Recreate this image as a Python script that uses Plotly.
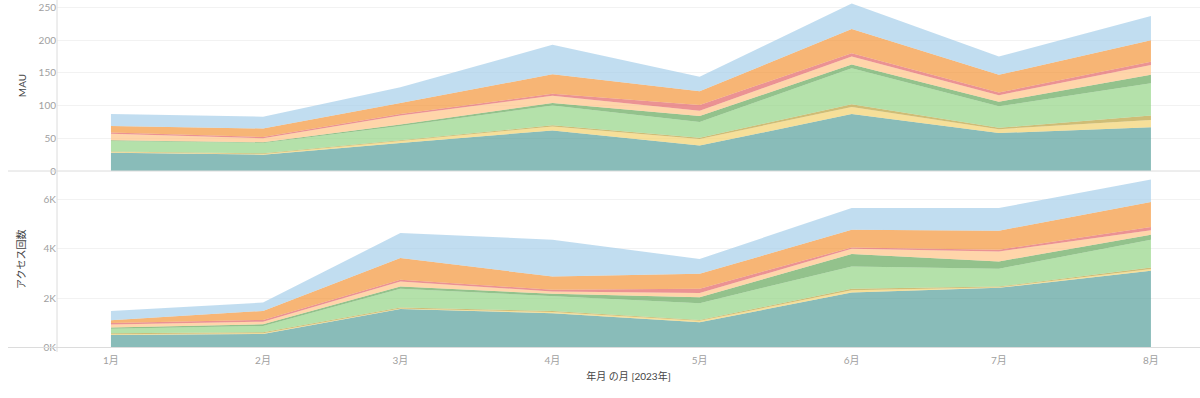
import plotly.graph_objects as go

# ---- data ----
months = ["2023-01-01", "2023-02-01", "2023-03-01", "2023-04-01",
          "2023-05-01", "2023-06-01", "2023-07-01", "2023-08-01"]
month_labels = ["1月", "2月", "3月", "4月", "5月", "6月", "7月", "8月"]

series_names = ["系列A", "系列B", "系列C", "系列D", "系列E", "系列F", "系列G", "系列H", "系列I"]
series_colors = ["#499894", "#F1CE63", "#B6992D", "#8CD17D", "#59A14F",
                 "#FFBE7D", "#E15759", "#F28E2B", "#A0CBE8"]

# MAU (top panel), bottom -> top stacking order
mau_a = [28, 25, 43, 62, 39, 87, 58, 67]
mau_b = [1, 1, 3, 6, 10, 11, 6, 11]
mau_c = [1, 1, 1, 2, 2, 4, 2, 7]
mau_d = [16, 16, 22, 30, 24, 55, 33, 49]
mau_e = [1, 1, 2, 4, 9, 6, 7, 13]
mau_f = [10, 6, 14, 11, 8, 12, 10, 15]
mau_g = [2, 2, 2, 3, 9, 5, 4, 5]
mau_h = [10, 13, 17, 30, 21, 37, 27, 33]
mau_i = [18, 18, 24, 45, 22, 39, 28, 37]

# アクセス回数 (bottom panel)
acc_a = [510, 550, 1560, 1390, 1020, 2225, 2415, 3105]
acc_b = [30, 30, 20, 45, 60, 90, 20, 70]
acc_c = [40, 40, 35, 45, 35, 60, 30, 65]
acc_d = [180, 250, 760, 610, 680, 905, 720, 1120]
acc_e = [50, 70, 95, 80, 240, 500, 295, 205]
acc_f = [120, 105, 200, 95, 165, 215, 405, 175]
acc_g = [65, 70, 70, 70, 175, 55, 70, 135]
acc_h = [110, 365, 880, 535, 605, 715, 770, 1015]
acc_i = [375, 340, 1010, 1490, 600, 880, 920, 905]

mau_series = [mau_a, mau_b, mau_c, mau_d, mau_e, mau_f, mau_g, mau_h, mau_i]
acc_series = [acc_a, acc_b, acc_c, acc_d, acc_e, acc_f, acc_g, acc_h, acc_i]

mau_ticks = [0, 50, 100, 150, 200, 250]
acc_ticks = [0, 2000, 4000, 6000]
acc_ticktext = ["0K", "2K", "4K", "6K"]


def rgba(hex_color, a):
    h = hex_color.lstrip("#")
    r, g, b = int(h[0:2], 16), int(h[2:4], 16), int(h[4:6], 16)
    return f"rgba({r},{g},{b},{a})"


W, H = 1200, 398
FONT = "Lato, 'Noto Sans CJK JP', sans-serif"
ALPHA = 0.65

fig = go.Figure()
for name, col, vals in zip(series_names, series_colors, mau_series):
    fig.add_trace(go.Scatter(
        x=months, y=vals, name=name, mode="lines", stackgroup="mau",
        line=dict(width=0, color=col), fillcolor=rgba(col, ALPHA),
        xaxis="x", yaxis="y", showlegend=False))
for name, col, vals in zip(series_names, series_colors, acc_series):
    fig.add_trace(go.Scatter(
        x=months, y=vals, name=name, mode="lines", stackgroup="acc",
        line=dict(width=0, color=col), fillcolor=rgba(col, ALPHA),
        xaxis="x2", yaxis="y2", showlegend=False))

x0 = 57 / W
top_split = 1 - 171 / H
bottom_edge = 1 - 347.5 / H
xrange = ["2022-12-21", "2023-08-11"]

tick_font = dict(family=FONT, size=10, color="#a0a0a0")
title_font = dict(family=FONT, size=10, color="#444444")

fig.update_layout(
    width=W, height=H, autosize=False,
    margin=dict(l=0, r=0, t=0, b=0),
    paper_bgcolor="white", plot_bgcolor="white",
    font=dict(family=FONT),
    xaxis=dict(domain=[x0, 1], anchor="y", type="date", range=xrange,
               showticklabels=False, showgrid=False, zeroline=False,
               showline=False, ticks="", automargin=False),
    xaxis2=dict(domain=[x0, 1], anchor="y2", type="date", range=xrange,
                matches="x", tickvals=months, ticktext=month_labels,
                showgrid=False, zeroline=False, showline=False, ticks="",
                tickfont=tick_font, ticklabelstandoff=5, automargin=False,
                title=dict(text="年月 の月 [2023年]", font=title_font, standoff=8)),
    yaxis=dict(domain=[top_split, 1], anchor="x", range=[0, 261.5],
               tickvals=mau_ticks, gridcolor="#f2f2f2", gridwidth=1,
               zeroline=False, showline=False, ticks="", tickfont=tick_font,
               automargin=False,
               title=dict(text="MAU", font=title_font, standoff=10)),
    yaxis2=dict(domain=[bottom_edge, top_split], anchor="x2", range=[0, 7140],
                tickvals=acc_ticks, ticktext=acc_ticktext,
                gridcolor="#f2f2f2", gridwidth=1,
                zeroline=False, showline=False, ticks="", tickfont=tick_font,
                automargin=False,
                title=dict(text="アクセス回数", font=title_font, standoff=16)),
    shapes=[
        dict(type="line", xref="paper", yref="paper", x0=8 / W, x1=1,
             y0=top_split, y1=top_split, line=dict(color="#dcdcdc", width=1)),
        dict(type="line", xref="paper", yref="paper", x0=8 / W, x1=1,
             y0=bottom_edge, y1=bottom_edge, line=dict(color="#dcdcdc", width=1)),
        dict(type="line", xref="paper", yref="paper", x0=x0, x1=x0,
             y0=1 - 352 / H, y1=1, line=dict(color="#dcdcdc", width=1)),
    ],
)

fig.write_html("out.html",
               config=dict(displayModeBar=False, responsive=False),
               post_script="document.body.style.margin='0';document.body.style.overflow='hidden';")
